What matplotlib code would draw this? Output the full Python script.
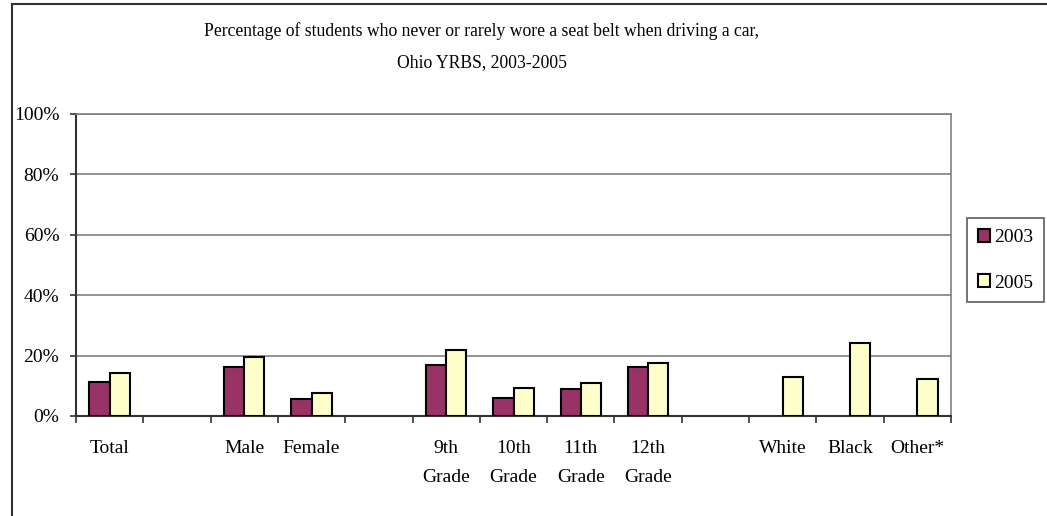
import numpy as np
import matplotlib.pyplot as plt
from matplotlib.patches import Rectangle

# data (blank slots are the gaps between groups)
categories = ["Total", "", "Male", "Female", "", "9th\nGrade", "10th\nGrade",
              "11th\nGrade", "12th\nGrade", "", "White", "Black", "Other*"]
pct_2003 = [11.4, np.nan, 16.1, 5.6, np.nan, 16.8, 6.1, 8.8, 16.1, np.nan, np.nan, np.nan, np.nan]
pct_2005 = [14.1, np.nan, 19.4, 7.6, np.nan, 22.0, 9.4, 10.9, 17.4, np.nan, 12.8, 24.1, 12.1]
years = ["2003", "2005"]
y_ticks = [0, 20, 40, 60, 80, 100]

plt.rcParams['font.family'] = ['Liberation Serif', 'DejaVu Serif']

W, H = 1047, 516
fig = plt.figure(figsize=(W / 100, H / 100), dpi=100)
ax = fig.add_axes([76 / W, 1 - 416 / H, (951 - 76) / W, (416 - 114) / H])

x = np.arange(len(categories))
bw = 0.3
ax.bar(x - bw / 2, pct_2003, bw, color="#993366", edgecolor="black", linewidth=1.5, label=years[0], zorder=3)
ax.bar(x + bw / 2, pct_2005, bw, color="#FFFFCC", edgecolor="black", linewidth=1.5, label=years[1], zorder=3)

ax.set_xlim(-0.5, len(categories) - 0.5)
ax.set_ylim(0, 100)
ax.set_yticks(y_ticks)
ax.set_yticklabels([f"{v}%" for v in y_ticks], fontsize=14)
ax.yaxis.grid(True, color="#808080", linewidth=1.2, zorder=0)
ax.set_axisbelow(True)

# labels centred in each slot, tick marks on slot boundaries
ax.set_xticks(x)
ax.set_xticklabels(categories, fontsize=14, linespacing=1.95, va="top")
ax.tick_params(axis="x", which="major", length=0, pad=17)
ax.set_xticks(np.arange(-0.5, len(categories)), minor=True)
ax.tick_params(axis="x", which="minor", length=5, width=1.2, direction="out", color="#333333")
ax.tick_params(axis="y", length=4, width=1.2, color="#333333", pad=8)

for side in ["top", "right"]:
    ax.spines[side].set_color("#808080")
    ax.spines[side].set_linewidth(1.2)
for side in ["left", "bottom"]:
    ax.spines[side].set_color("#333333")
    ax.spines[side].set_linewidth(1.5)

fig.text(482 / W, 1 - 31 / H, "Percentage of students who never or rarely wore a seat belt when driving a car,",
         ha="center", va="center", fontsize=12.7)
fig.text(482 / W, 1 - 63 / H, "Ohio YRBS, 2003-2005", ha="center", va="center", fontsize=12.7)

leg = fig.legend(loc="upper left", bbox_to_anchor=(967 / W, 1 - 218 / H), fontsize=14,
                 frameon=True, fancybox=False, edgecolor="#333333", borderpad=0.55,
                 handlelength=0.65, handleheight=0.65, handletextpad=0.2, labelspacing=1.45,
                 borderaxespad=0)
leg.get_frame().set_linewidth(1.2)

# outer chart border
fig.patches.append(Rectangle((12 / W, -0.1), 1.2, 1 - 4 / H + 0.1, transform=fig.transFigure,
                             fill=False, edgecolor="#333333", linewidth=1.5))

fig.savefig("out.png", dpi=100)
